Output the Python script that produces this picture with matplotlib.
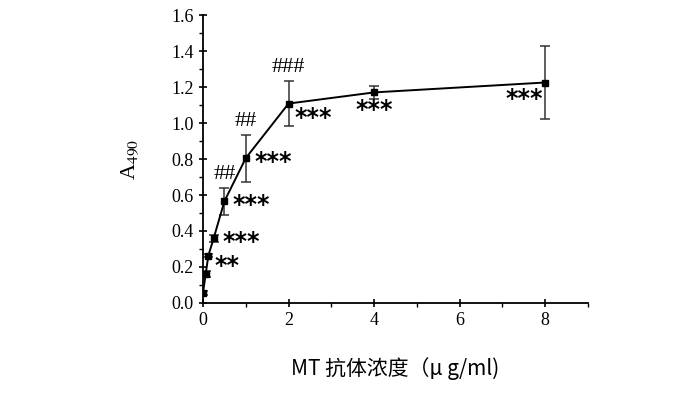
import matplotlib
matplotlib.use("Agg")
import matplotlib.pyplot as plt
from matplotlib.ticker import MultipleLocator

# concentration (ug/ml) vs A490
conc = [0, 0.0625, 0.125, 0.25, 0.5, 1, 2, 4, 8]
a490 = [0.057, 0.16, 0.263, 0.36, 0.565, 0.805, 1.108, 1.17, 1.225]
err = [0.01, 0.015, 0.01, 0.02, 0.075, 0.13, 0.125, 0.035, 0.205]
stars = ["", "", "**", "***", "***", "***", "***", "***", "***"]
hashes = ["", "", "", "", "##", "##", "###", "", ""]

plt.rcParams["font.family"] = ["Liberation Serif", "DejaVu Serif"]
plt.rcParams["mathtext.fontset"] = "stix"

fig = plt.figure(figsize=(7, 3.98), dpi=100)
ax = fig.add_axes([0.29, 0.2387, 0.55, 0.7236])

ax.errorbar(conc, a490, yerr=err, color="black", lw=1.4, marker="s", ms=5,
            ecolor="#333333", elinewidth=1.1, capsize=3.5, capthick=1.1)

star_kw = dict(fontsize=17, fontweight="bold", family="DejaVu Sans", va="center")
for x, y, e, s, h in zip(conc, a490, err, stars, hashes):
    if s:
        if x == 4:
            ax.text(x, y - 0.1, s, ha="center", **star_kw)
        elif x == 8:
            ax.text(x - 0.05, y - 0.09, s, ha="right", **star_kw)
        elif x == 2:
            ax.text(x + 0.15, y - 0.08, s, ha="left", **star_kw)
        elif x == 0.125:
            ax.text(x + 0.15, y - 0.06, s, ha="left", **star_kw)
        else:
            ax.text(x + 0.2, y - 0.02, s, ha="left", **star_kw)
    if h:
        ax.text(x, y + e + 0.02, h, ha="center", va="bottom", fontsize=16)

ax.set_xlim(0, 9)
ax.set_ylim(0, 1.6)
ax.xaxis.set_major_locator(MultipleLocator(2))
ax.xaxis.set_minor_locator(MultipleLocator(1))
ax.yaxis.set_major_locator(MultipleLocator(0.2))
ax.yaxis.set_minor_locator(MultipleLocator(0.1))
ax.yaxis.set_major_formatter(plt.FormatStrFormatter("%.1f"))
ax.tick_params(which="major", direction="inout", length=6, width=1.2, labelsize=13)
ax.tick_params(which="minor", direction="out", length=3, width=1)
for sp in ["top", "right"]:
    ax.spines[sp].set_visible(False)
for sp in ["left", "bottom"]:
    ax.spines[sp].set_linewidth(1.3)

ax.set_ylabel("A$_{490}$", fontsize=16, labelpad=22)
ax.set_xlabel("MT 抗体浓度（μ g/ml)", fontsize=15, labelpad=20,
              family=["Noto Sans CJK SC", "DejaVu Sans"])

fig.savefig("out.png", dpi=100)
